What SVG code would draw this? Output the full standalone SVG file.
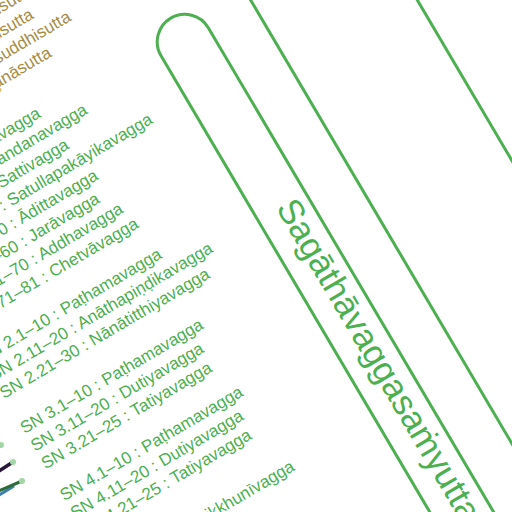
<svg xmlns="http://www.w3.org/2000/svg" width="512" height="512" viewBox="0 0 512 512">
<style>
.t{font-family:"Liberation Sans",Arial,sans-serif;font-size:17px;fill:#4caf50}
.g{font-family:"Liberation Sans",Arial,sans-serif;font-size:17px;fill:#a68c45}
.ttl{font-family:"Liberation Sans",Arial,sans-serif;font-size:35px;fill:#4caf50}
.box{fill:none;stroke:#4caf50;stroke-width:3}
.dot{fill:#a5d6a7}
</style>
<rect width="512" height="512" fill="#fff"/>
<g id="connectors">
<line x1="-4" y1="473" x2="13" y2="462" stroke="#2a1838" stroke-width="3.5"/>
<line x1="-4" y1="497" x2="14" y2="486" stroke="#3b7fb0" stroke-width="3"/>
<line x1="-4" y1="492" x2="22" y2="481" stroke="#2e6b3a" stroke-width="3"/>
<circle class="dot" cx="13" cy="462" r="3"/>
<circle class="dot" cx="22" cy="481" r="3"/>
<circle class="dot" cx="1" cy="445" r="3"/>
<circle cx="-1" cy="90" r="2.5" fill="#e0c070"/>
</g>
<g transform="translate(4,399) rotate(-30.5)">
<g id="suttas">
<text class="g" x="191" y="-334">isutta</text>
<text class="g" x="220" y="-313" text-anchor="end">isutta</text>
<text class="g" x="251" y="-292" text-anchor="end">suddhisutta</text>
<text class="g" x="216" y="-271" text-anchor="end">anāsutta</text>
</g>
<g id="sn1">
<text class="t" x="0" y="-224.3">SN 1.1–10 : Naḷavagga</text>
<text class="t" x="0" y="-203.6">SN 1.11–20 : Nandanavagga</text>
<text class="t" x="0" y="-182.9">SN 1.21–30 : Sattivagga</text>
<text class="t" x="0" y="-162.2">SN 1.31–40 : Satullapakāyikavagga</text>
<text class="t" x="0" y="-141.5">SN 1.41–50 : Ādittavagga</text>
<text class="t" x="0" y="-120.8">SN 1.51–60 : Jarāvagga</text>
<text class="t" x="0" y="-100.1">SN 1.61–70 : Addhavagga</text>
<text class="t" x="0" y="-79.4">SN 1.71–81 : Chetvāvagga</text>
</g>
<g id="sn2">
<text class="t" x="0" y="-41.4">SN 2.1–10 : Paṭhamavagga</text>
<text class="t" x="0" y="-20.7">SN 2.11–20 : Anāthapiṇḍikavagga</text>
<text class="t" x="0" y="0">SN 2.21–30 : Nānātitthiyavagga</text>
</g>
<g id="sn3">
<text class="t" x="0" y="40.5">SN 3.1–10 : Paṭhamavagga</text>
<text class="t" x="0" y="61.2">SN 3.11–20 : Dutiyavagga</text>
<text class="t" x="0" y="81.9">SN 3.21–25 : Tatiyavagga</text>
</g>
<g id="sn4">
<text class="t" x="0" y="118.7">SN 4.1–10 : Paṭhamavagga</text>
<text class="t" x="0" y="139.4">SN 4.11–20 : Dutiyavagga</text>
<text class="t" x="0" y="160.1">SN 4.21–25 : Tatiyavagga</text>
</g>
<g id="sn5">
<text class="t" x="0" y="209">SN 5.1–10 : Bhikkhunīvagga</text>
</g>
<g id="sagatha">
<rect class="box" x="309.5" y="-243.5" width="55" height="800" rx="27.5"/>
<text class="ttl" transform="translate(331,-27) rotate(90)">Sagāthāvaggasaṁyutta</text>
</g>
<g id="outer">
<line class="box" x1="415" y1="-700" x2="415" y2="700"/>
<line class="box" x1="558.6" y1="-700" x2="558.6" y2="700"/>
</g>
</g>
</svg>
